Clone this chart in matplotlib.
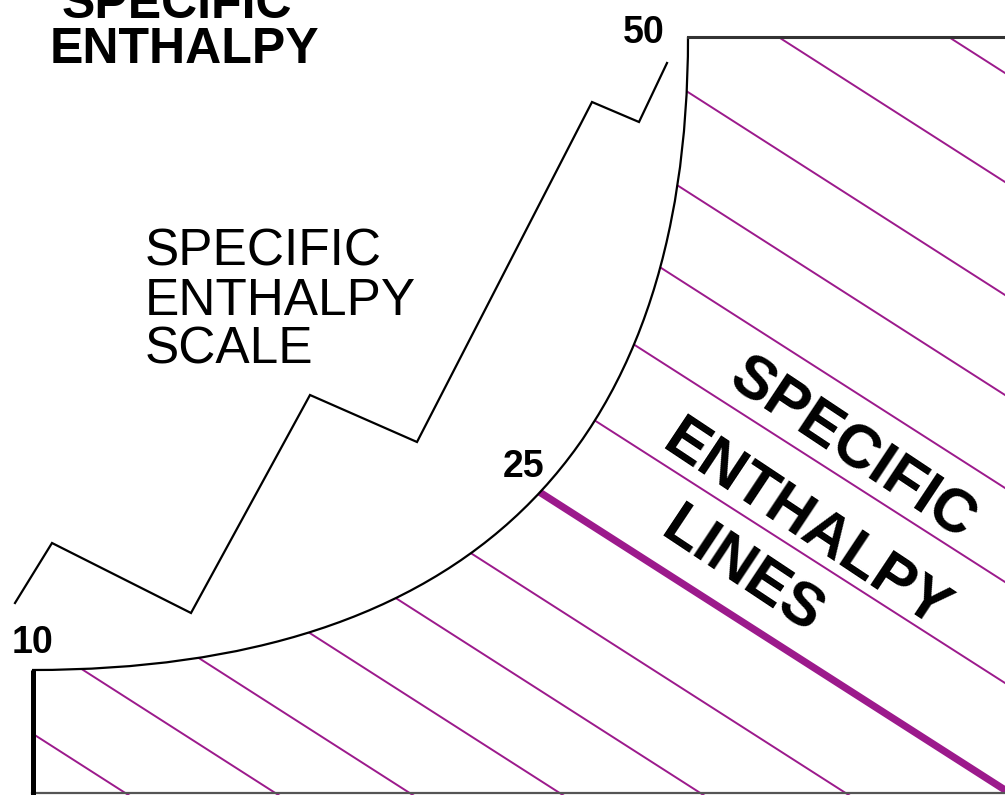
import numpy as np
import matplotlib
matplotlib.use("Agg")
import matplotlib.pyplot as plt
from matplotlib.path import Path
from matplotlib.patches import PathPatch

# ---------------- data (pixel-like units) ----------------
# saturation curve: from its lower-left end to its upper-right end
curve_start = (32, 670)
curve_end = (688, 37)
curve_handle = 0.66          # bezier handle fraction

# enthalpy lines: height where each line meets the right edge, common slope
enthalpy_right_y = [73, 182, 295, 395, 488, 582, 683, 790, 895, 988, 1078, 1174, 1260, 1356]
enthalpy_slope = 0.64
highlight_index = 7          # the 25 line

# broken scale (zig-zag) line
zigzag_x = [15, 52, 191, 310, 417, 592, 639, 667]
zigzag_y = [603, 543, 613, 395, 442, 102, 122, 63]

# scale values
scale_values = ["10", "25", "50"]
scale_value_x = [12, 503, 623]
scale_value_y = [653, 477, 43]

W, H = 1005, 795
MAGENTA = "#9c1a8c"

fig = plt.figure(figsize=(W / 100, H / 100), dpi=100)
ax = fig.add_axes([0, 0, 1, 1])
ax.set_xlim(0, W)
ax.set_ylim(H, 0)
ax.axis("off")

x0, y0 = curve_start
x1, y1 = curve_end
c1 = (x0 + curve_handle * (x1 - x0), y0)
c2 = (x1, y1 + curve_handle * (y0 - y1))

# region below / right of the curve (clip region)
region_verts = [curve_start, c1, c2, curve_end, (W + 5, y1), (W + 5, H + 5), (x0, H + 5), curve_start]
region_codes = [Path.MOVETO, Path.CURVE4, Path.CURVE4, Path.CURVE4,
                Path.LINETO, Path.LINETO, Path.LINETO, Path.CLOSEPOLY]
region = PathPatch(Path(region_verts, region_codes), facecolor="none", edgecolor="none",
                   transform=ax.transData)
ax.add_patch(region)

# enthalpy lines
for i, yr in enumerate(enthalpy_right_y):
    xs = np.array([-200, W + 50])
    ys = yr - (W - xs) * enthalpy_slope
    lw = 5.2 if i == highlight_index else 1.4
    ln, = ax.plot(xs, ys, color=MAGENTA, lw=lw, solid_capstyle="butt", zorder=2)
    ln.set_clip_path(region)

# saturation curve
curve = PathPatch(Path([curve_start, c1, c2, curve_end],
                       [Path.MOVETO, Path.CURVE4, Path.CURVE4, Path.CURVE4]),
                  facecolor="none", edgecolor="black", lw=1.6, zorder=3)
ax.add_patch(curve)

# frame pieces
ax.plot([x1, W], [y1, y1], color="#333333", lw=2.2, zorder=3)
ax.plot([x0, W], [H - 2, H - 2], color="#555555", lw=1.6, zorder=3)
ax.plot([x0 + 1, x0 + 1], [y0, H], color="black", lw=3.6, zorder=3, solid_capstyle="butt")

# zig-zag scale
ax.plot(zigzag_x, zigzag_y, color="black", lw=1.6, zorder=3, solid_joinstyle="miter")

FONT = ["Liberation Sans", "DejaVu Sans"]

# scale values
for t, tx, ty in zip(scale_values, scale_value_x, scale_value_y):
    ax.text(tx, ty, t, fontsize=27, fontweight="bold", family=FONT,
            ha="left", va="baseline", zorder=4)

# top-left title (cut off at the top)
ax.text(62, 18, "SPECIFIC", fontsize=36, fontweight="bold", family=FONT,
        ha="left", va="baseline")
ax.text(50, 63, "ENTHALPY", fontsize=36, fontweight="bold", family=FONT,
        ha="left", va="baseline")

# scale label
for txt, by in zip(["SPECIFIC", "ENTHALPY", "SCALE"], [265, 315, 363]):
    ax.text(145, by, txt, fontsize=37, family=FONT, ha="left", va="baseline")

# rotated label (runs down-right along the enthalpy lines)
angle = -np.degrees(np.arctan(enthalpy_slope)) - 1
for txt, cx, cy in zip(["SPECIFIC", "ENTHALPY", "LINES"],
                       [852, 806, 742], [450, 526, 573]):
    ax.text(cx, cy, txt, fontsize=44, fontweight="bold", family=FONT,
            rotation=angle, rotation_mode="anchor", ha="center", va="center",
            zorder=5)

fig.savefig("out.png", dpi=100)
